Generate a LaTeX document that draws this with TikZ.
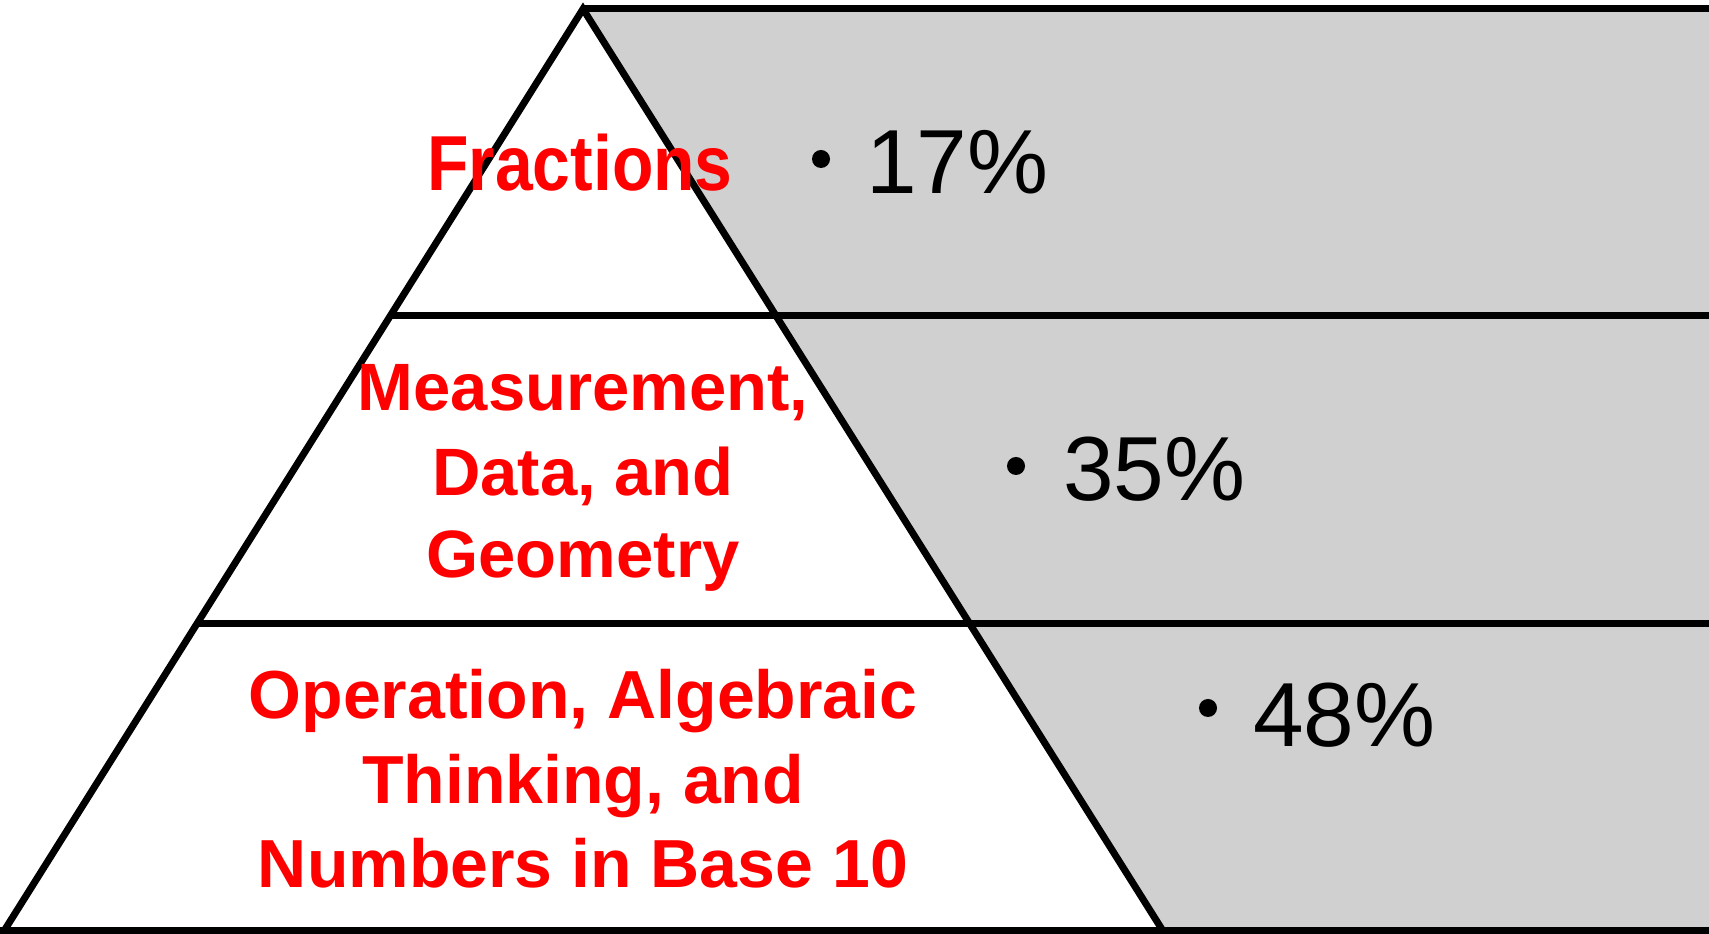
\documentclass[tikz,border=0pt]{standalone}
\usepackage{fontspec}
\setmainfont{Liberation Sans}
\definecolor{panelgray}{HTML}{D0D0D0}
\definecolor{lblred}{HTML}{FF0000}
\begin{document}
\begin{tikzpicture}[x=1pt,y=1pt,
  edge/.style={line width=7pt, line join=miter},
  lbl/.style={text=lblred, inner sep=0pt, anchor=base},
  pct/.style={font=\fontsize{91}{100}\selectfont, inner sep=0pt, anchor=base west},
  dotmark/.style={circle, fill=black, inner sep=0pt, minimum size=18pt}]
\useasboundingbox (0,0) rectangle (1709,934);
% key points
\coordinate (A) at (583,925);
\coordinate (TR) at (1709,925);
\coordinate (BL) at (4,3);
\coordinate (BR) at (1163,3);
\coordinate (B0) at (0,3);
\coordinate (B1) at (1709,3);
\coordinate (L1) at (390.2,618);
\coordinate (E1) at (1709,618);
\coordinate (L2) at (196.8,310);
\coordinate (E2) at (1709,310);
% gray panel
\fill[panelgray] (A) -- (TR) -- (B1) -- (BR) -- cycle;
% lines
\draw[edge] (BL) -- (A) -- (BR);
\draw[edge] (A) -- (TR);
\draw[edge] (L1) -- (E1);
\draw[edge] (L2) -- (E2);
\draw[edge] (B0) -- (B1);
% labels
\node[lbl, font=\fontsize{78}{90}\selectfont\bfseries] (frac) at (580,743) {\scalebox{0.87}[1]{Fractions}};
\node[lbl, font=\fontsize{67}{80}\selectfont\bfseries] (m1) at (583,523) {Measurement,};
\node[lbl, font=\fontsize{67}{80}\selectfont\bfseries] (m2) at (583,438) {Data, and};
\node[lbl, font=\fontsize{67}{80}\selectfont\bfseries] (m3) at (583,356) {Geometry};
\node[lbl, font=\fontsize{68}{80}\selectfont\bfseries] (o1) at (583,215) {Operation, Algebraic};
\node[lbl, font=\fontsize{68}{80}\selectfont\bfseries] (o2) at (583,130) {Thinking, and};
\node[lbl, font=\fontsize{68}{80}\selectfont\bfseries] (o3) at (583,46) {Numbers in Base 10};
% percentages
\node[dotmark] (d1) at (821,775) {};
\node[pct] (p1) at (866,740) {17\%};
\node[dotmark] (d2) at (1016,468) {};
\node[pct] (p2) at (1063,433) {35\%};
\node[dotmark] (d3) at (1208,226) {};
\node[pct] (p3) at (1253,187) {48\%};
\end{tikzpicture}
\end{document}
